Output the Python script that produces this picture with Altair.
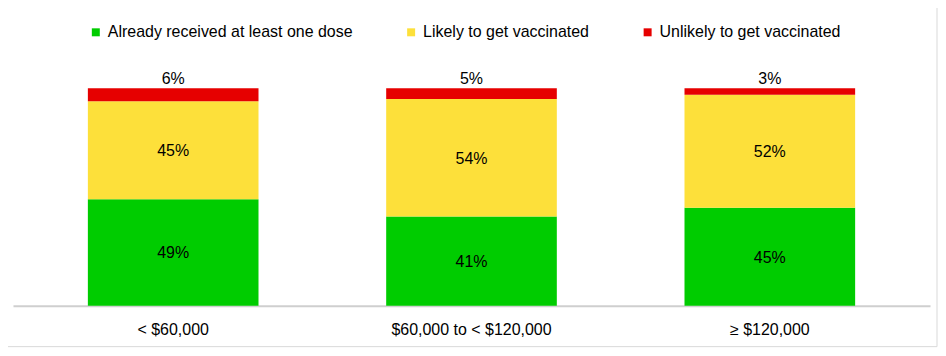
import altair as alt
import pandas as pd

categories = ["< $60,000", "$60,000 to < $120,000", "≥ $120,000"]
series = ["Already received at least one dose", "Likely to get vaccinated", "Unlikely to get vaccinated"]
already = [49, 41, 45]
likely = [45, 54, 52]
unlikely = [6, 5, 3]
colors = ["#00CC00", "#FDE03A", "#E60000"]

rows = []
for i, c in enumerate(categories):
    for j, (s, vals) in enumerate(zip(series, [already, likely, unlikely])):
        rows.append({"cat": c, "series": s, "value": vals[i], "ord": j})
df = pd.DataFrame(rows)

FONT = "Liberation Sans"

base = alt.Chart(df).transform_stack(
    stack="value", groupby=["cat"], as_=["v0", "v1"], sort=[alt.SortField("ord", order="ascending")]
).transform_calculate(
    mid="(datum.v0 + datum.v1) / 2",
    lbl="datum.value + '%'"
)

xenc = alt.X("cat:N", sort=categories, title=None,
             scale=alt.Scale(paddingInner=0.428, paddingOuter=0.251),
             axis=alt.Axis(labelAngle=0, ticks=False, domainColor="#CFCFCF", domainWidth=2,
                           labelPadding=16, labelFontSize=16, labelFont=FONT, labelColor="#000000"))
yscale = alt.Scale(domain=[0, 100])

bars = base.mark_bar().encode(
    x=xenc,
    y=alt.Y("v0:Q", scale=yscale, axis=None),
    y2="v1:Q",
    color=alt.Color("series:N", sort=series,
                    scale=alt.Scale(domain=series, range=colors),
                    legend=alt.Legend(title=None, orient="none", direction="horizontal",
                                      legendX=75, legendY=-64, symbolType="square", symbolSize=64,
                                      symbolStrokeWidth=0, labelFontSize=16, labelFont=FONT,
                                      labelColor="#000000", columnPadding=50, labelOffset=4,
                                      labelLimit=500)),
)

inner = base.transform_filter("datum.ord < 2").mark_text(
    fontSize=16, font=FONT, color="#000000", baseline="middle", dy=1
).encode(
    x=alt.X("cat:N", sort=categories),
    y=alt.Y("mid:Q", scale=yscale),
    text="lbl:N",
)

top = base.transform_filter("datum.ord == 2").mark_text(
    fontSize=16, font=FONT, color="#000000", baseline="middle", dy=-9
).encode(
    x=alt.X("cat:N", sort=categories),
    y=alt.Y("v1:Q", scale=yscale),
    text="lbl:N",
)

border = alt.Chart(pd.DataFrame({"a": [0]})).mark_rect(
    fill=None, stroke="#D9D9D9", strokeWidth=1
).encode(x=alt.value(-12), x2=alt.value(926), y=alt.value(-87), y2=alt.value(259))

chart = alt.layer(bars, inner, top, border).properties(
    width=919, height=218,
    autosize=alt.AutoSizeParams(type="none"),
    padding={"left": 5, "top": 80, "right": 8, "bottom": 42},
).configure_view(stroke=None)

chart.save("out.html", embed_options={"renderer": "svg", "actions": False})
